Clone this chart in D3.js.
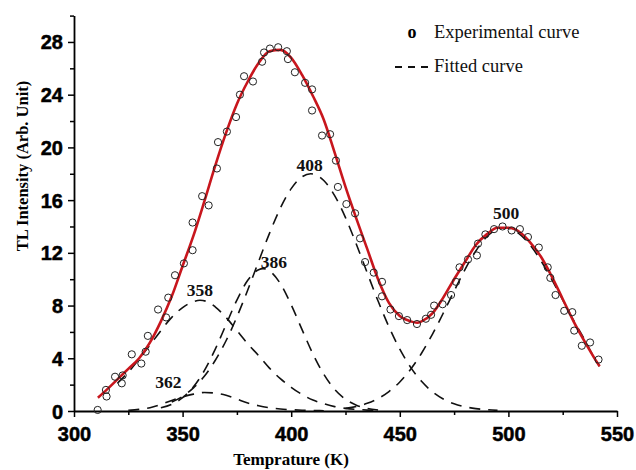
<!DOCTYPE html>
<html>
<head>
<meta charset="utf-8">
<script src="https://cdn.jsdelivr.net/npm/d3@7"></script>
<style>
  html, body { margin: 0; padding: 0; background: #fff; }
  svg { display: block; }
</style>
</head>
<body>
<svg id="chart" width="636" height="470"></svg>
<script>
// ---------- data ----------
const xTicks = [300, 350, 400, 450, 500, 550];
const xMinorTicks = [325, 375, 425, 475, 525];
const yTicks = [0, 4, 8, 12, 16, 20, 24, 28];
const yMinorTicks = [2, 6, 10, 14, 18, 22, 26, 30];

// experimental TL glow curve points [T (K), intensity]
const experimental = [
  [310.9,0.08],[314.7,1.6],[315,1.1],[318.9,2.6],[322,2.1],[322.4,2.7],[326.6,4.3],[331,3.6],
  [333,4.5],[334,5.7],[338.7,7.7],[342.4,7.1],[343.4,8.6],[346.5,10.3],[350.6,11.2],[354.6,12.2],
  [354.6,14.3],[359,16.3],[362,15.6],[365.8,18.4],[366.3,20.4],[370.4,21.2],[374.6,22.3],[376.4,24.0],
  [378.3,25.4],[382.4,25.0],[386.6,26.5],[387.5,27.2],[390.2,27.5],[394,27.6],[398,27.3],[398.5,26.7],
  [401.7,25.7],[406.4,24.9],[409.6,24.4],[409.6,22.8],[414.2,20.9],[417.9,21.0],[420.6,19.0],[421.5,17.0],
  [425.4,15.7],[429.4,15.0],[431.7,13.1],[434,11.3],[438,10.5],[441.8,9.8],[441.8,8.7],[445.7,7.7],
  [449.6,7.2],[453.4,6.9],[457.9,6.6],[462,7.0],[464.4,7.3],[465.8,8.0],[469.7,8.1],[473.6,8.8],
  [475.9,9.8],[477.5,10.9],[481.4,11.5],[485.5,11.8],[486,12.7],[489.4,13.4],[493.4,13.8],[497.3,14.0],
  [501.5,13.7],[505.3,13.8],[509,13.2],[514,12.4],[518.1,10.9],[519.3,10.1],[521.7,8.8],[525.7,7.6],
  [529.4,7.5],[530.3,6.1],[533.8,4.95],[537.6,5.2],[541.5,3.9]
];

// total fitted curve (red)
const fittedTotal = [
  [311,1.0],[315,1.6],[320,2.4],[325,3.2],[330,4.0],[335,5.2],[340,6.8],[345,8.7],[350,11.0],
  [355,13.3],[360,15.9],[365,18.6],[370,21.1],[375,23.3],[380,25.0],[385,26.4],[390,27.3],[395,27.4],
  [400,26.8],[405,25.5],[410,23.9],[415,22.1],[420,19.6],[425,17.0],[430,14.6],[435,12.3],[440,10.0],
  [445,8.2],[450,7.2],[455,6.8],[458,6.7],[460,6.8],[465,7.4],[470,8.6],[475,10.0],[480,11.3],
  [485,12.6],[490,13.4],[495,13.9],[500,13.9],[505,13.6],[510,12.8],[515,11.7],[520,10.2],[525,8.5],
  [530,6.8],[535,5.3],[540,3.9],[542,3.4]
];

// deconvoluted component peaks (dashed)
const peak358 = [
  [320,2.1],[325,2.95],[330,3.95],[335,5.0],[340,6.1],[345,7.1],[350,7.85],[355,8.3],[358,8.4],
  [362,8.25],[365,7.9],[370,7.1],[375,6.1],[380,5.1],[385,4.2],[390,3.25],[395,2.45],[400,1.8],
  [405,1.25],[410,0.83],[415,0.55],[420,0.33],[425,0.2],[430,0.12],[435,0.07],[440,0.04]
];
const peak362 = [
  [325,0.05],[330,0.12],[335,0.25],[340,0.5],[345,0.8],[350,1.07],[355,1.28],[360,1.4],[365,1.36],
  [370,1.2],[375,0.9],[380,0.6],[385,0.4],[390,0.25],[395,0.15],[400,0.1],[405,0.06],[410,0.04],[415,0.02]
];
const peak386 = [
  [340,0.24],[345,0.51],[350,1.01],[355,1.84],[360,3.06],[365,4.68],[370,6.55],[375,8.42],[380,9.92],
  [385,10.72],[387,10.8],[390,10.63],[395,9.67],[400,8.06],[405,6.17],[410,4.33],[415,2.79],[420,1.64],
  [425,0.89],[430,0.44],[435,0.2],[440,0.08]
];
const peak408 = [
  [345,0.68],[350,1.11],[355,1.75],[360,2.64],[365,3.83],[370,5.33],[375,7.14],[380,9.18],[385,11.35],
  [390,13.48],[395,15.39],[400,16.87],[405,17.77],[409,18.0],[415,17.49],[420,16.34],[425,14.67],
  [430,12.65],[435,10.48],[440,8.34],[445,6.39],[450,4.69],[455,3.31],[460,2.25],[465,1.46],[470,0.91],
  [475,0.55],[480,0.32],[485,0.18],[490,0.1],[495,0.05]
];
const peak500 = [
  [425,0.2],[430,0.34],[435,0.58],[440,0.94],[445,1.47],[450,2.2],[455,3.17],[460,4.38],[465,5.82],
  [470,7.42],[475,9.1],[480,10.73],[485,12.14],[490,13.21],[495,13.8],[498,13.9],[500,13.86],[505,13.44],
  [510,12.59],[515,11.4],[520,9.97],[525,8.43],[530,6.88],[535,5.43],[540,3.9],[542,3.4]
];

// peak labels: [text, T, intensity at label centre]
const peakLabels = [
  ["358", 358, 9.2], ["362", 343.5, 2.2], ["386", 392, 11.3], ["408", 408.5, 18.7], ["500", 499, 15.0]
];

// ---------- drawing ----------
const svg = d3.select("#chart");
const x = d3.scaleLinear().domain([300, 550]).range([74, 617]);
const y = d3.scaleLinear().domain([0, 30]).range([411, 15.6]);

const tickFont = "'Liberation Sans', Arial, sans-serif";
const serif = "'Liberation Serif', 'Times New Roman', serif";

// axes
const xAxis = svg.append("g").attr("transform", `translate(0,${y(0)})`)
  .call(d3.axisBottom(x).tickValues(xTicks).tickSize(6).tickSizeOuter(0).tickFormat(d3.format("d")));
svg.append("g").attr("transform", `translate(0,${y(0)})`)
  .call(d3.axisBottom(x).tickValues(xMinorTicks).tickSize(4).tickSizeOuter(0).tickFormat(""))
  .select(".domain").remove();
const yAxis = svg.append("g").attr("transform", `translate(${x(300)},0)`)
  .call(d3.axisLeft(y).tickValues(yTicks).tickSize(6).tickSizeOuter(0).tickFormat(d3.format("d")));
svg.append("g").attr("transform", `translate(${x(300)},0)`)
  .call(d3.axisLeft(y).tickValues(yMinorTicks).tickSize(4).tickSizeOuter(0).tickFormat(""))
  .select(".domain").remove();

svg.selectAll(".domain").attr("stroke", "#000").attr("stroke-width", 1.8);
svg.selectAll(".tick line").attr("stroke", "#000").attr("stroke-width", 1.5);
xAxis.selectAll("text").attr("font-family", tickFont).attr("font-weight", "bold")
  .attr("font-size", 20).attr("fill", "#000").attr("stroke", "#000").attr("stroke-width", 0.5)
  .attr("dy", null).attr("y", 30);
yAxis.selectAll("text").attr("font-family", tickFont).attr("font-weight", "bold")
  .attr("font-size", 20).attr("fill", "#000").attr("stroke", "#000").attr("stroke-width", 0.5)
  .attr("x", -11).attr("dy", "0.35em");

// axis titles
svg.append("text").attr("x", 291).attr("y", 465).attr("text-anchor", "middle")
  .attr("font-family", serif).attr("font-weight", "bold").attr("font-size", 17)
  .text("Temprature (K)");
svg.append("text").attr("transform", "translate(22,166) rotate(-90)").attr("text-anchor", "middle")
  .attr("font-family", serif).attr("font-weight", "bold").attr("font-size", 16.5)
  .attr("dy", "0.35em")
  .text("TL Intensity (Arb. Unit)");

// component curves
const line = d3.line().x(d => x(d[0])).y(d => y(d[1])).curve(d3.curveMonotoneX);
[peak358, peak362, peak386, peak408, peak500].forEach(p => {
  svg.append("path").datum(p).attr("d", line)
    .attr("fill", "none").attr("stroke", "#111").attr("stroke-width", 1.6)
    .attr("stroke-dasharray", "11,8");
});

// total fit
svg.append("path").datum(fittedTotal).attr("d", line)
  .attr("fill", "none").attr("stroke", "#c8161d").attr("stroke-width", 2.6);

// experimental points
svg.append("g").selectAll("circle").data(experimental).join("circle")
  .attr("cx", d => x(d[0])).attr("cy", d => y(d[1])).attr("r", 3.6)
  .attr("fill", "none").attr("stroke", "#222").attr("stroke-width", 1);

// peak labels
svg.append("g").selectAll("text").data(peakLabels).join("text")
  .attr("x", d => x(d[1])).attr("y", d => y(d[2])).attr("dy", "0.35em")
  .attr("text-anchor", "middle").attr("font-family", serif).attr("font-weight", "bold")
  .attr("font-size", 17.5).attr("fill", "#111").text(d => d[0]);

// legend
const lg = svg.append("g");
lg.append("text").attr("x", 412).attr("y", 38).attr("text-anchor", "middle")
  .attr("font-family", serif).attr("font-weight", "bold").attr("font-size", 18).text("o");
lg.append("text").attr("x", 434).attr("y", 38).attr("font-family", serif)
  .attr("font-size", 18.5).attr("fill", "#111").text("Experimental curve");
lg.append("line").attr("x1", 395).attr("x2", 432).attr("y1", 67).attr("y2", 67)
  .attr("stroke", "#111").attr("stroke-width", 1.8).attr("stroke-dasharray", "7,6");
lg.append("text").attr("x", 434).attr("y", 72).attr("font-family", serif)
  .attr("font-size", 18.5).attr("fill", "#111").text("Fitted curve");
</script>
</body>
</html>
